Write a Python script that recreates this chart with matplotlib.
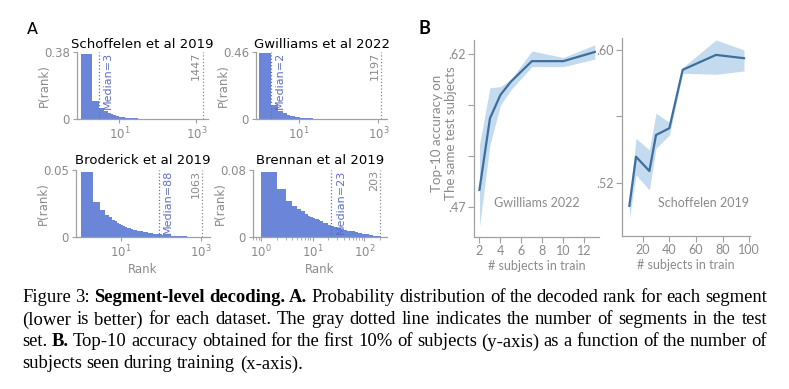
import numpy as np
import matplotlib
matplotlib.use("Agg")
import matplotlib.pyplot as plt

# --- panel A : rank histograms (P(rank) per rank bin) ---
rank_edges = [1, 2, 3, 4, 5, 6, 7, 8, 9, 10, 11, 12, 13, 14, 16, 18, 20, 23, 26, 30,
              35, 40, 47, 55, 65, 77, 90, 105, 125, 150, 180, 215, 260, 310, 370,
              450, 550, 700, 1000]

datasets = ["Schoffelen et al 2019", "Gwilliams et al 2022",
            "Broderick et al 2019", "Brennan et al 2019"]
p_schoffelen = [0.37, 0.10, 0.06, 0.045, 0.035, 0.028, 0.023, 0.019, 0.016,
                0.0135, 0.012, 0.0105, 0.0094, 0.0080, 0.0066, 0.0055, 0.0045, 0.0036,
                0.0029, 0.0022, 0.0017, 0.0013, 0.0010, 0.0008, 0.0006, 0.0005, 0.0004,
                0.0003, 0.00025, 0.0002, 0.00015, 0.0001, 0.0001, 0.00008, 0.00006,
                0.00005, 0.00004, 0.00003]
p_gwilliams = [0.45, 0.098, 0.055, 0.038, 0.029, 0.023, 0.018, 0.015, 0.012,
               0.0105, 0.0093, 0.0082, 0.0073, 0.0062, 0.0052, 0.0044, 0.0036, 0.0029,
               0.0023, 0.0018, 0.0014, 0.0011, 0.0008, 0.0006, 0.0005, 0.0004, 0.0003,
               0.0002, 0.00015, 0.0001, 0.0001, 0.00008, 0.00006, 0.00005, 0.00004,
               0.00003, 0.00002, 0.00002]
p_broderick = [0.0485, 0.026, 0.0205, 0.0167, 0.0146, 0.0129, 0.0116, 0.0104, 0.0096,
               0.0089, 0.0084, 0.0079, 0.0075, 0.0070, 0.0064, 0.0059, 0.0055, 0.0050,
               0.0046, 0.0042, 0.0038, 0.0034, 0.0031, 0.0028, 0.0025, 0.0022, 0.0020,
               0.0017, 0.0015, 0.0013, 0.0011, 0.0009, 0.0008, 0.0006, 0.0005, 0.0003,
               0.0002, 0.0001]
p_brennan = [0.078, 0.057, 0.043, 0.037, 0.0335, 0.031, 0.027, 0.0246, 0.024,
             0.0228, 0.0215, 0.021, 0.0198, 0.0188, 0.0172, 0.0162, 0.0148, 0.0136,
             0.0122, 0.011, 0.0098, 0.0088, 0.0076, 0.0066, 0.0055, 0.0047, 0.0038,
             0.003, 0.0022, 0.0013, 0.0006]
hist_values = [p_schoffelen, p_gwilliams, p_broderick, p_brennan]
y_max = [0.38, 0.46, 0.05, 0.08]
y_max_labels = ["0.38", "0.46", "0.05", "0.08"]
medians = [3, 2, 88, 23]
n_segments = [1447, 1197, 1063, 203]

# --- panel B : top-10 accuracy vs number of training subjects ---
gw_subjects = [2, 3, 4, 5, 7, 10, 13]
gw_acc = [0.487, 0.557, 0.580, 0.593, 0.613, 0.613, 0.622]
gw_low = [0.451, 0.531, 0.570, 0.585, 0.6076, 0.6076, 0.615]
gw_high = [0.531, 0.587, 0.588, 0.595, 0.623, 0.6166, 0.629]

sc_subjects = [10, 15, 25, 30, 40, 50, 75, 96]
sc_acc = [0.506, 0.5356, 0.527, 0.5487, 0.5528, 0.588, 0.597, 0.595]
sc_low = [0.4985, 0.5246, 0.5156, 0.5407, 0.5487, 0.5859, 0.5853, 0.5873]
sc_high = [0.5105, 0.5467, 0.5397, 0.5618, 0.5564, 0.5894, 0.606, 0.600]

W, H = 789, 389
GRAY = "#8a8a8a"
SPINE = "#a0a0a0"
HIST_C = "#6b86d8"
MED_C = "#5c70c0"

fig = plt.figure(figsize=(W / 100, H / 100), dpi=100)
fig.patch.set_facecolor("white")


def px_box(left, top, right, bottom):
    return [left / W, 1 - bottom / H, (right - left) / W, (bottom - top) / H]


hist_boxes = [px_box(77, 52, 208, 119), px_box(256, 52, 387, 119),
              px_box(76, 170, 210, 237), px_box(253, 170, 387, 237)]
hist_xlim = [(0.8, 2000), (0.85, 1650), (0.75, 1700), (0.7, 275)]
title_pad = [3.0, 3.0, 4.0, 4.0]

for i in range(4):
    ax = fig.add_axes(hist_boxes[i])
    vals = hist_values[i]
    edges = rank_edges[:len(vals) + 1]
    ax.stairs(vals, edges, fill=True, color=HIST_C, lw=0)
    ax.set_xscale("log")
    ax.set_xlim(*hist_xlim[i])
    ax.set_ylim(0, y_max[i])
    ax.set_yticks([0, y_max[i]])
    ax.set_yticklabels(["0", y_max_labels[i]])
    if i == 3:
        ax.set_xticks([1, 10, 100])
    else:
        ax.set_xticks([10, 1000])
        ax.xaxis.set_minor_locator(matplotlib.ticker.NullLocator())
    for s in ["top", "right"]:
        ax.spines[s].set_visible(False)
    for s in ["left", "bottom"]:
        ax.spines[s].set_color(SPINE)
        ax.spines[s].set_linewidth(0.9)
    ax.tick_params(colors=SPINE, labelcolor=GRAY, labelsize=8.5, length=3, width=0.8, pad=2)
    ax.tick_params(which="minor", colors=SPINE, length=2, width=0.6)
    ax.set_ylabel("P(rank)", color=GRAY, fontsize=8.5, labelpad=-5)
    ax.set_title(datasets[i], fontsize=9.5, pad=title_pad[i])
    if i >= 2:
        ax.set_xlabel("Rank", color=GRAY, fontsize=8.5, labelpad=2)

    ax.axvline(medians[i], color=MED_C, ls=":", lw=0.9)
    ax.annotate(f"Median={medians[i]}", xy=(medians[i], 1), xycoords=("data", "axes fraction"),
                xytext=(3, 0), textcoords="offset points", rotation=90,
                ha="left", va="top", fontsize=8, color=MED_C)
    ax.axvline(n_segments[i], color=GRAY, ls=":", lw=0.9)
    ax.annotate(str(n_segments[i]), xy=(n_segments[i], 1), xycoords=("data", "axes fraction"),
                xytext=(-1, 0), textcoords="offset points", rotation=90,
                ha="right", va="top", fontsize=8, color=GRAY)

fig.text(32 / W, 1 - 30 / H, "A", fontsize=11.5, ha="center", va="center")

# --- panel B ---
LINE_C = "#3d6f9d"
BAND_C = "#4a90d0"
BFONT = "Lato"

b_boxes = [px_box(474, 40, 599, 236.7), px_box(621.7, 38.3, 750, 235.7)]
series = [(gw_subjects, gw_acc, gw_low, gw_high, "Gwilliams 2022"),
          (sc_subjects, sc_acc, sc_low, sc_high, "Schoffelen 2019")]
b_xlim = [(1.48, 13.4), (4.25, 100.5)]
b_ylim = [(0.4412, 0.6337), (0.488, 0.607)]
b_xticks = [[2, 4, 6, 8, 10, 12], [20, 40, 60, 80, 100]]
b_yticks = [[0.47, 0.52, 0.57, 0.62], [0.52, 0.56, 0.60]]
b_ylabels = [[".47", "", "", ".62"], [".52", "", ".60"]]
label_pos = [(537, 203), (704, 203)]

for j in range(2):
    ax = fig.add_axes(b_boxes[j])
    xs, ys, lo, hi, name = series[j]
    ax.fill_between(xs, lo, hi, color=BAND_C, alpha=0.32, lw=0)
    ax.plot(xs, ys, color=LINE_C, lw=1.6)
    ax.set_xlim(*b_xlim[j])
    ax.set_ylim(*b_ylim[j])
    ax.set_xticks(b_xticks[j])
    ax.set_yticks(b_yticks[j])
    ax.set_yticklabels(b_ylabels[j])
    for s in ["top", "right"]:
        ax.spines[s].set_visible(False)
    for s in ["left", "bottom"]:
        ax.spines[s].set_color(SPINE)
        ax.spines[s].set_linewidth(0.9)
    ax.tick_params(colors=SPINE, labelcolor=GRAY, labelsize=9, length=4, width=0.8, pad=2)
    for lab in ax.get_xticklabels() + ax.get_yticklabels():
        lab.set_fontfamily(BFONT)
    ax.set_xlabel("# subjects in train", color=GRAY, fontsize=9, family=BFONT, labelpad=2)
    fig.text(label_pos[j][0] / W, 1 - label_pos[j][1] / H, name, color=GRAY,
             fontsize=9, family=BFONT, ha="center", va="center")

fig.text(444.5 / W, 1 - 133 / H, "Top-10 accuracy on\nThe same test subjects",
         rotation=90, ha="center", va="center", multialignment="center",
         color=GRAY, fontsize=9.6, family=BFONT, linespacing=1.2)
fig.text(424 / W, 1 - 28 / H, "B", fontsize=13, family=BFONT, weight="bold",
         ha="center", va="center")

# --- caption, justified word by word ---
caption_lines = [
    [("Figure", 0), ("3:", 0), ("Segment-level", 1), ("decoding.", 1), ("A.", 1),
     ("Probability", 0), ("distribution", 0), ("of", 0), ("the", 0), ("decoded", 0),
     ("rank", 0), ("for", 0), ("each", 0), ("segment", 0)],
    [("(lower", 0), ("is", 0), ("better)", 0), ("for", 0), ("each", 0), ("dataset.", 0),
     ("The", 0), ("gray", 0), ("dotted", 0), ("line", 0), ("indicates", 0), ("the", 0),
     ("number", 0), ("of", 0), ("segments", 0), ("in", 0), ("the", 0), ("test", 0)],
    [("set.", 0), ("B.", 1), ("Top-10", 0), ("accuracy", 0), ("obtained", 0), ("for", 0),
     ("the", 0), ("first", 0), ("10%", 0), ("of", 0), ("subjects", 0), ("(y-axis)", 0),
     ("as", 0), ("a", 0), ("function", 0), ("of", 0), ("the", 0), ("number", 0), ("of", 0)],
    [("subjects", 0), ("seen", 0), ("during", 0), ("training", 0), ("(x-axis).", 0)],
]
cap_left, cap_right = 22, 767
baselines = [302, 324.5, 346.5, 368.5]
renderer = fig.canvas.get_renderer()
for k, words in enumerate(caption_lines):
    texts = []
    for w, b in words:
        t = fig.text(0, 1 - baselines[k] / H, w, family="Liberation Serif", fontsize=13.4,
                     weight="bold" if b else "normal", va="baseline", ha="left")
        texts.append(t)
    widths = [t.get_window_extent(renderer).width for t in texts]
    if k < len(caption_lines) - 1:
        gap = (cap_right - cap_left - sum(widths)) / (len(texts) - 1)
    else:
        gap = 4.5
    x = cap_left
    for t, wd in zip(texts, widths):
        t.set_x(x / W)
        x += wd + gap

fig.savefig("out.png", dpi=100, facecolor="white")
